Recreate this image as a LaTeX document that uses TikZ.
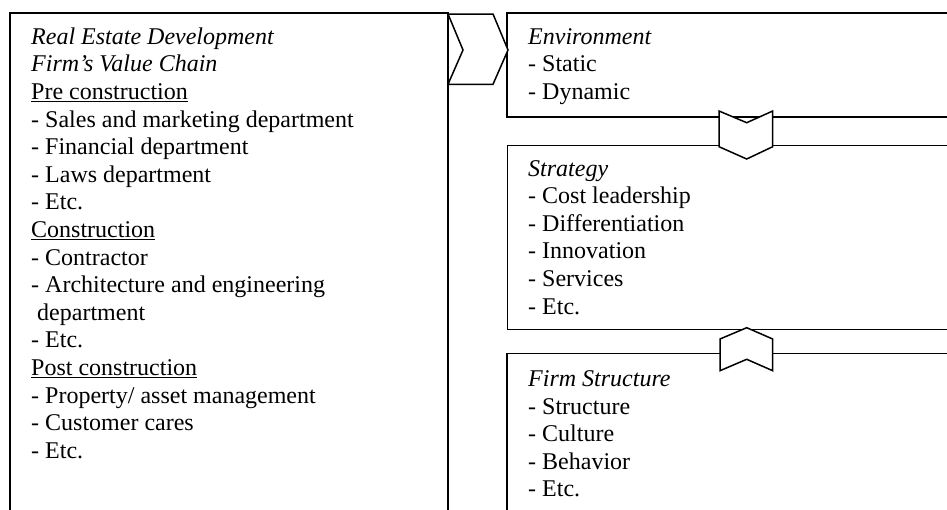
\documentclass[tikz,border=0pt]{standalone}
\usepackage{fontspec}
\setmainfont{Liberation Serif}
\usepackage{tikz}
\usetikzlibrary{positioning}

\tikzset{
  box/.style={draw, rectangle, inner sep=0pt, outer sep=0pt, anchor=north west},
  txt/.style={anchor=base west, align=left, inner sep=0pt, font={\fontsize{24}{27.6}\selectfont}},
  chevron/.style={draw, fill=white, line width=1.5pt, line join=miter}
}

\begin{document}
\begin{tikzpicture}[x=1pt, y=-1pt]
    \clip (0,0) rectangle (947,509);
    % the four boxes, open to the right and bottom
    \node[box, line width=1.6pt, minimum width=438pt, minimum height=520pt] (chain) at (10,13) {};
    \node[box, line width=2pt, minimum width=460pt, minimum height=103.7pt, right=59pt of chain.north east, anchor=north west] (env) {};
    \node[box, line width=1pt, minimum width=460pt, minimum height=183.6pt, below=29pt of env.south west, anchor=north west] (strat) {};
    \node[box, line width=1.6pt, minimum width=460pt, minimum height=200pt, below=24pt of strat.south west, anchor=north west] (firm) {};

    % text blocks sit on the baseline of their last line
    \node[txt] (chainTxt) at ([xshift=21pt, yshift=-445.3pt]chain.north west) {\textit{Real Estate Development}\\
      \textit{Firm’s Value Chain}\\
      \underline{Pre construction}\\
      - Sales and marketing department\\
      - Financial department\\
      - Laws department\\
      - Etc.\\
      \underline{Construction}\\
      - Contractor\\
      - Architecture and engineering\\
      \hspace*{0.25em}department\\
      - Etc.\\
      \underline{Post construction}\\
      - Property/ asset management\\
      - Customer cares\\
      - Etc.};
    \node[txt] (envTxt) at ([xshift=21pt, yshift=-86.5pt]env.north west) {\textit{Environment}\\
      - Static\\
      - Dynamic};
    \node[txt] (stratTxt) at ([xshift=21pt, yshift=-168.3pt]strat.north west) {\textit{Strategy}\\
      - Cost leadership\\
      - Differentiation\\
      - Innovation\\
      - Services\\
      - Etc.};
    \node[txt] (firmTxt) at ([xshift=21pt, yshift=-143.5pt]firm.north west) {\textit{Firm Structure}\\
      - Structure\\
      - Culture\\
      - Behavior\\
      - Etc.};

    % chevrons between the boxes
    \draw[chevron] ([yshift=-1pt]chain.north east) -- ++(45,0) -- ++(15,36) -- ++(-15,34.3) -- ++(-45,0) -- ++(15,-34.3) -- cycle;
    \draw[chevron] (env.south west) ++(212,-5.7) -- ++(27.7,11.7) -- ++(26,-11.7) -- ++(0,35.7) -- ++(-26,12.3) -- ++(-27.7,-12.3) -- cycle;
    \draw[chevron] (strat.south west) ++(213,9.7) -- ++(26.7,-11.3) -- ++(26,11.3) -- ++(0,31.7) -- ++(-26,-11.4) -- ++(-26.7,11.4) -- cycle;
  \end{tikzpicture}
\end{document}
